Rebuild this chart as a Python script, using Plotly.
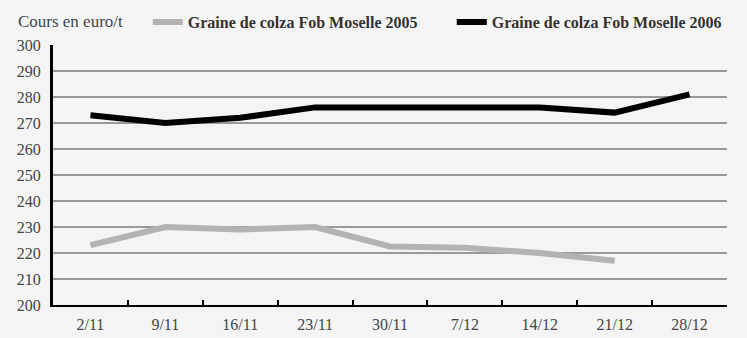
import plotly.graph_objects as go

categories = ["2/11", "9/11", "16/11", "23/11", "30/11", "7/12", "14/12", "21/12", "28/12"]
values_2005 = [223, 230, 229, 230, 222.5, 222, 220, 217, None]
values_2006 = [273, 270, 272, 276, 276, 276, 276, 274, 281]
name_2005 = "Graine de colza Fob Moselle 2005"
name_2006 = "Graine de colza Fob Moselle 2006"
y_title = "Cours en euro/t&nbsp;&nbsp;&nbsp;&nbsp;"

serif = "Liberation Serif"

fig = go.Figure()
fig.add_trace(go.Scatter(x=categories, y=values_2005, mode="lines", name=name_2005,
                         line=dict(color="#b3b3b3", width=6), connectgaps=False))
fig.add_trace(go.Scatter(x=categories, y=values_2006, mode="lines", name=name_2006,
                         line=dict(color="#000000", width=6)))

fig.update_layout(
    width=747, height=338,
    margin=dict(l=53, r=20, t=45, b=33, autoexpand=False),
    paper_bgcolor="#f4f4f4", plot_bgcolor="#f4f4f4",
    font=dict(family=serif, size=16, color="#444444"),
    showlegend=True,
    legend=dict(orientation="h", x=-0.055, xanchor="left", y=1.088, yanchor="middle",
                title=dict(text=y_title, side="left",
                           font=dict(family=serif, size=17, color="#444444", weight="normal")),
                font=dict(family=serif, size=16, color="#333333", weight="bold"),
                bgcolor="rgba(0,0,0,0)", traceorder="normal", itemwidth=30,
                entrywidth=259, entrywidthmode="pixels"),
)
fig.update_xaxes(type="category", range=[-0.5, 8.5], tickson="boundaries", ticks="inside",
                 ticklen=5, tickwidth=2, tickcolor="#000000",
                 showline=True, linecolor="#000000", linewidth=2, showgrid=False,
                 ticklabelstandoff=4,
                 tickfont=dict(family=serif, size=16, color="#444444"))
fig.update_yaxes(range=[200, 300], dtick=10, showgrid=True, gridcolor="#999999", gridwidth=1.5,
                 showline=True, linecolor="#000000", linewidth=3, ticks="", zeroline=False,
                 ticklabelstandoff=6,
                 tickfont=dict(family=serif, size=16, color="#444444"))

fig.write_html("out.html")
